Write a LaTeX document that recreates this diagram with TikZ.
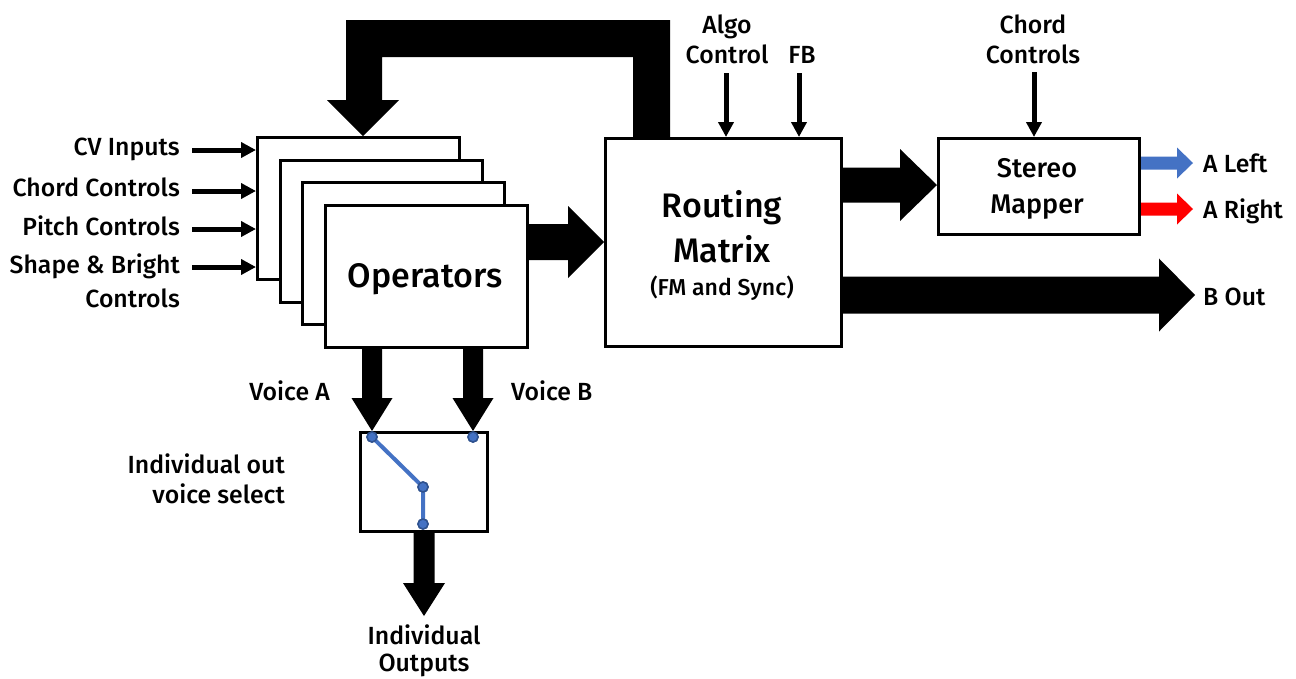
\documentclass[tikz,border=0pt]{standalone}
\usepackage{fontspec}
\setmainfont{Fira Sans}[BoldFont={Fira Sans Medium}]
\usetikzlibrary{calc,arrows.meta}

\definecolor{swblue}{HTML}{4472C4}
\definecolor{swdark}{HTML}{2F528F}
\definecolor{outred}{HTML}{FF0000}

% wide block arrow pointing right: [colour]{start}{tip}{shaft half}{head half}{head length}
\newcommand{\fatright}[6][black]{%
  \fill[#1] let \p1=#2, \p2=#3 in
    (\x1,\y1+#4) -- (\x2-#6,\y1+#4) -- (\x2-#6,\y1+#5) -- (\x2,\y1)
    -- (\x2-#6,\y1-#5) -- (\x2-#6,\y1-#4) -- (\x1,\y1-#4) -- cycle;}
% wide block arrow pointing down: [colour]{start}{tip}{shaft half}{head half}{head length}
\newcommand{\fatdown}[6][black]{%
  \fill[#1] let \p1=#2, \p2=#3 in
    (\x1-#4,\y1) -- (\x1-#4,\y2+#6) -- (\x1-#5,\y2+#6) -- (\x1,\y2)
    -- (\x1+#5,\y2+#6) -- (\x1+#4,\y2+#6) -- (\x1+#4,\y1) -- cycle;}

\tikzset{
  box/.style={draw, line width=3pt, fill=white, inner sep=0pt, anchor=north west},
  opbox/.style={box, minimum width=202pt, minimum height=142pt},
  lbl/.style={font=\fontsize{24.8}{29}\selectfont\bfseries, inner sep=0pt},
  boxlbl/.style={font=\fontsize{27}{32}\selectfont\bfseries, inner sep=0pt},
  biglbl/.style={font=\fontsize{34}{40}\selectfont\bfseries, inner sep=0pt},
  smalllbl/.style={font=\fontsize{23}{27}\selectfont\bfseries, inner sep=0pt},
  thinarrow/.style={line width=5pt, -{Triangle[length=15pt,width=15pt]}},
  dot/.style={circle, fill=swblue, draw=swdark, line width=1.5pt, minimum size=10pt, inner sep=0pt},
}

\begin{document}
\begin{tikzpicture}[x=1pt,y=-1pt]
\useasboundingbox (0,0) rectangle (1296,678);

% operator stack
\node[opbox] (opA) at (256,136) {};
\node[opbox] (opB) at (278.7,158.7) {};
\node[opbox] (opC) at (301.3,181.3) {};
\node[opbox] (opD) at (324,204) {};
\node[biglbl, anchor=base] (opsT) at (425,287) {Operators};

% routing matrix
\node[box, minimum width=236pt, minimum height=208pt] (rm) at (604,137) {};
\node[biglbl, anchor=base] (rmT1) at (722,217) {Routing};
\node[biglbl, anchor=base] (rmT2) at (722,262) {Matrix};
\node[smalllbl, anchor=base] (rmT3) at (722,295) {(FM and Sync)};

% stereo mapper
\node[box, minimum width=201pt, minimum height=96pt] (sm) at (937,137) {};
\node[boxlbl, anchor=base] (smT1) at (1037,177) {Stereo};
\node[boxlbl, anchor=base] (smT2) at (1037,213) {Mapper};

% voice selector
\node[box, minimum width=127pt, minimum height=99pt] (sel) at (359,431) {};

% input labels
\node[lbl, anchor=base east] (cv) at (180,155) {CV Inputs};
\node[lbl, anchor=base east] (cc) at (180,196) {Chord Controls};
\node[lbl, anchor=base east] (pc) at (180,235) {Pitch Controls};
\node[lbl, anchor=base east] (sb) at (180,273) {Shape \& Bright};
\node[lbl, anchor=base east] (sb2) at (180,307) {Controls};

\node[lbl, anchor=base east] (va) at (330,400) {Voice A};
\node[lbl, anchor=base west] (vb) at (511,400) {Voice B};
\node[lbl, anchor=base east] (vs1) at (285,473) {Individual out};
\node[lbl, anchor=base east] (vs2) at (285,503) {voice select};
\node[lbl, anchor=base] (io1) at (424,644) {Individual};
\node[lbl, anchor=base] (io2) at (424,671) {Outputs};

\node[lbl, anchor=base] (al1) at (727,33) {Algo};
\node[lbl, anchor=base] (al2) at (727,63) {Control};
\node[lbl, anchor=base] (fb) at (802,63) {FB};
\node[lbl, anchor=base] (ch1) at (1033,33) {Chord};
\node[lbl, anchor=base] (ch2) at (1033,63) {Controls};

\node[lbl, anchor=base west] (aleft) at (1203,172) {A Left};
\node[lbl, anchor=base west] (aright) at (1203,218) {A Right};
\node[lbl, anchor=base west] (bout) at (1203,305) {B Out};

% thin control arrows into the operators
\foreach \lab/\dy in {cv/14, cc/55, pc/93, sb/131}{
  \coordinate (in-\lab) at ($(opA.north west)+(0,\dy)$);
  \draw[thinarrow] ($(in-\lab)+(-64,0)$) -- (in-\lab);
}

% thin control arrows from above
\coordinate (algoIn) at ($(rm.north west)+(122,0)$);
\coordinate (fbIn) at ($(rm.north west)+(195,0)$);
\coordinate (chIn) at ($(sm.north west)+(97,0)$);
\draw[thinarrow] ($(algoIn)+(0,-64)$) -- (algoIn);
\draw[thinarrow] ($(fbIn)+(0,-64)$) -- (fbIn);
\draw[thinarrow] ($(chIn)+(0,-65)$) -- (chIn);

% feedback path from the routing matrix back to the operators
\fill let \p1=(rm.north west), \p2=(opA.north west) in
  (\x1+29pt,\y1) -- (\x1+29pt,\y1+80pt) -- (\x2+126pt,\y1+80pt)
  -- (\x2+126pt,\y2+36pt) -- (\x2+143pt,\y2+36pt) -- (\x2+107pt,\y2)
  -- (\x2+71pt,\y2+36pt) -- (\x2+90pt,\y2+36pt) -- (\x2+90pt,\y1+117pt)
  -- (\x1+66pt,\y1+117pt) -- (\x1+66pt,\y1) -- cycle;

% signal flow
\fatright{($(opD.north east)+(0,38)$)}{(rm.west)}{18pt}{36pt}{36pt}
\fatright{($(rm.north east)+(0,48)$)}{(sm.west)}{17.5pt}{36pt}{37pt}
\fatright{($(rm.north east)+(0,158)$)}{($(bout.west)+(-8,0)$)}{18.5pt}{36.5pt}{36pt}
\fatright[swblue]{($(sm.north east)+(0,26)$)}{($(aleft.west)+(-10,0)$)}{6.5pt}{15.5pt}{16pt}
\fatright[outred]{($(sm.north east)+(0,72)$)}{($(aright.west)+(-10,0)$)}{6.5pt}{15.5pt}{16pt}

\fatdown{($(opD.south west)+(48,0)$)}{(sel.north)}{10pt}{20.5pt}{33pt}
\fatdown{($(opD.south west)+(149,0)$)}{(sel.north)}{10pt}{20.5pt}{33pt}
\coordinate (outTip) at ($(sel.south west)+(65,83)$);
\fatdown{($(sel.south west)+(65,0)$)}{(outTip)}{10.5pt}{21pt}{33pt}

% selector switch
\node[dot] (swA) at ($(sel.north west)+(13,6)$) {};
\node[dot] (swB) at ($(sel.north west)+(114,6)$) {};
\node[dot] (swP) at ($(sel.north west)+(64,56)$) {};
\node[dot] (swO) at ($(sel.north west)+(64,93)$) {};
\draw[swblue, line width=4pt] (swA.center) -- (swP.center) -- (swO.center);
\foreach \d in {swA,swB,swP,swO}{ \node[dot] at (\d) {}; }
\end{tikzpicture}
\end{document}
